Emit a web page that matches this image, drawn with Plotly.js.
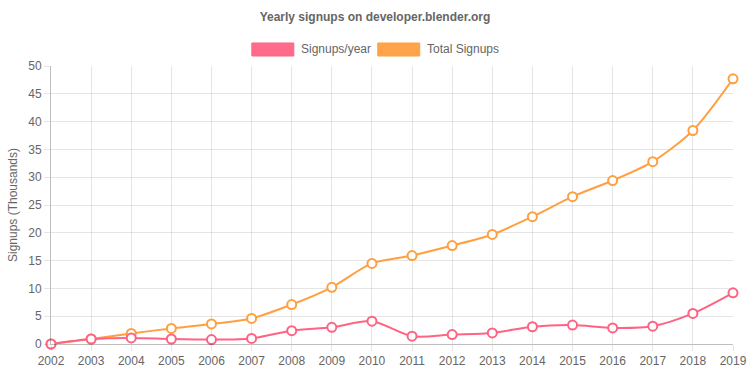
<!DOCTYPE html>
<html>
<head>
<meta charset="utf-8">
<script src="https://cdn.plot.ly/plotly-3.0.1.min.js"></script>
<style>html,body{margin:0;padding:0;background:#fff;}#chart{width:750px;height:375px;}</style>
</head>
<body>
<div id="chart"></div>
<script>
var years = [2002,2003,2004,2005,2006,2007,2008,2009,2010,2011,2012,2013,2014,2015,2016,2017,2018,2019];
var signupsPerYear = [0,0.9,1.1,0.9,0.8,1.0,2.4,3.0,4.1,1.4,1.7,2.0,3.1,3.4,2.9,3.2,5.5,9.2];
var totalSignups = [0,0.9,1.9,2.8,3.6,4.6,7.1,10.2,14.5,15.9,17.7,19.7,22.9,26.5,29.4,32.8,38.4,47.7];
var seriesNames = ['Signups/year', 'Total Signups'];
var yTicks = [0,5,10,15,20,25,30,35,40,45,50];

var pink = 'rgb(255,99,132)';
var orange = 'rgb(255,159,64)';
var font = 'Liberation Sans, Arial, Helvetica, sans-serif';

function mk(name, y, color) {
  return {
    x: years, y: y, name: name, type: 'scatter', mode: 'lines+markers',
    line: {color: color, width: 2, shape: 'spline', smoothing: 0.8},
    marker: {color: '#fff', size: 9, line: {color: color, width: 2}},
    showlegend: false, cliponaxis: false
  };
}
var traces = [mk(seriesNames[1], totalSignups, orange), mk(seriesNames[0], signupsPerYear, pink)];

var L = 51, R = 733.5, W = 750;
function px(x) { return (x - L) / (R - L); }
var T = 66, B = 344, H = 375;
function py(y) { return (B - y) / (B - T); }

var layout = {
  width: 750, height: 375,
  margin: {l: L, r: W - R, t: T, b: H - B},
  paper_bgcolor: '#fff', plot_bgcolor: '#fff',
  font: {family: font, size: 12, color: '#666'},
  title: {text: '<b>Yearly signups on developer.blender.org</b>', x: 0.5, xanchor: 'center', y: 1 - 17/375, yanchor: 'middle', font: {family: font, size: 12, color: '#666'}},
  xaxis: {
    range: [2002, 2019], tickvals: years, ticktext: years.map(String),
    showgrid: true, gridcolor: 'rgba(0,0,0,0.1)', gridwidth: 1,
    zeroline: false, showline: true, linecolor: 'rgba(0,0,0,0.25)', linewidth: 1,
    ticks: 'outside', ticklen: 6, tickcolor: 'rgba(0,0,0,0.1)',
    tickfont: {family: font, size: 12, color: '#666'}, fixedrange: true
  },
  yaxis: {
    range: [0, 50], tickvals: yTicks, ticktext: yTicks.map(String),
    showgrid: true, gridcolor: 'rgba(0,0,0,0.1)', gridwidth: 1,
    zeroline: false, showline: true, linecolor: 'rgba(0,0,0,0.25)', linewidth: 1,
    ticks: 'outside', ticklen: 6, tickcolor: 'rgba(0,0,0,0.1)',
    tickfont: {family: font, size: 12, color: '#666'},
    title: {text: 'Signups (Thousands)', font: {family: font, size: 12, color: '#666'}, standoff: 8},
    fixedrange: true
  },
  shapes: [
    {type: 'rect', xref: 'paper', yref: 'paper', x0: px(252), x1: px(294), y0: py(43), y1: py(56), fillcolor: 'rgba(255,99,132,0.95)', line: {color: pink, width: 1}},
    {type: 'rect', xref: 'paper', yref: 'paper', x0: px(378), x1: px(420), y0: py(43), y1: py(56), fillcolor: 'rgba(255,159,64,0.95)', line: {color: orange, width: 1}}
  ],
  annotations: [
    {xref: 'paper', yref: 'paper', x: px(299), y: py(49.5), xanchor: 'left', yanchor: 'middle', text: seriesNames[0], showarrow: false, font: {family: font, size: 12, color: '#666'}},
    {xref: 'paper', yref: 'paper', x: px(425), y: py(49.5), xanchor: 'left', yanchor: 'middle', text: seriesNames[1], showarrow: false, font: {family: font, size: 12, color: '#666'}}
  ]
};
Plotly.newPlot('chart', traces, layout, {displayModeBar: false, staticPlot: true});
</script>
</body>
</html>
